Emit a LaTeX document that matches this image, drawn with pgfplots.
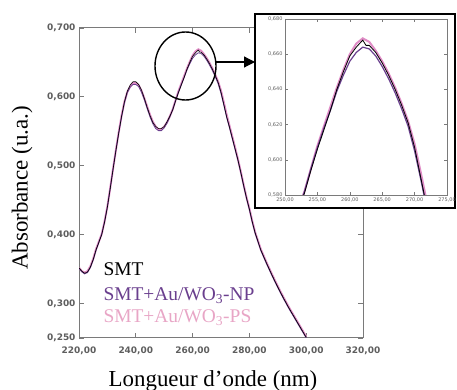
\documentclass[border=0pt]{standalone}
\usepackage{pgfplots}
\pgfplotsset{compat=1.18}
\usepackage{fontspec}
\setmainfont{Liberation Serif}
\newfontfamily\tickfont{DejaVu Sans}
\usetikzlibrary{arrows.meta}
\definecolor{axgray}{HTML}{7A7A7A}
\definecolor{tickgray}{HTML}{5E5E5E}
\definecolor{npcol}{HTML}{6A3F8E}
\definecolor{pscol}{HTML}{E08CC6}
\definecolor{pstext}{HTML}{E8A6C6}

\pgfplotstableread{
x y
220 0.352
221 0.347
222 0.344
223 0.346
224 0.353
225 0.364
226 0.378
227 0.389
228 0.400
229 0.418
230 0.440
231 0.467
232 0.495
233 0.522
234 0.548
235 0.572
236 0.593
237 0.608
238 0.617
239 0.622
240 0.622
241 0.618
242 0.610
243 0.598
244 0.585
245 0.573
246 0.563
247 0.557
248 0.554
249 0.554
250 0.557
251 0.564
252 0.572
253 0.581
254 0.594
255 0.606
256 0.617
257 0.628
258 0.640
259 0.650
260 0.659
261 0.664
262 0.668
262.5 0.665
263 0.665
264 0.661
265 0.655
266 0.648
267 0.640
268 0.631
269 0.621
270 0.607
271 0.589
272 0.571
273 0.556
274 0.540
275 0.524
276 0.508
277 0.490
278 0.471
279 0.453
280 0.437
281 0.419
282 0.403
284 0.378
286 0.359
288 0.341
290 0.324
292 0.308
294 0.293
296 0.279
298 0.265
300 0.251
}\smt

\pgfplotstableread{
x y
220 0.351
221 0.346
222 0.343
223 0.345
224 0.352
225 0.363
226 0.377
227 0.389
228 0.401
229 0.419
230 0.441
231 0.468
232 0.496
233 0.523
234 0.548
235 0.571
236 0.591
237 0.606
238 0.614
239 0.618
240 0.618
241 0.615
242 0.607
243 0.596
244 0.583
245 0.571
246 0.561
247 0.554
248 0.551
249 0.551
250 0.555
251 0.562
252 0.571
253 0.582
254 0.595
255 0.607
256 0.618
257 0.628
258 0.639
259 0.648
260 0.656
261 0.661
262 0.664
263 0.663
264 0.659
265 0.653
266 0.646
267 0.638
268 0.629
269 0.619
270 0.605
271 0.588
272 0.570
273 0.555
274 0.539
275 0.523
276 0.507
277 0.489
278 0.470
279 0.452
280 0.436
281 0.418
282 0.402
284 0.377
286 0.358
288 0.340
290 0.323
292 0.307
294 0.292
296 0.278
298 0.264
300 0.250
}\np

\pgfplotstableread{
x y
220 0.352
221 0.347
222 0.345
223 0.347
224 0.354
225 0.365
226 0.379
227 0.390
228 0.401
229 0.419
230 0.441
231 0.468
232 0.496
233 0.523
234 0.549
235 0.573
236 0.593
237 0.607
238 0.615
239 0.620
240 0.620
241 0.617
242 0.609
243 0.598
244 0.586
245 0.574
246 0.564
247 0.557
248 0.553
249 0.553
250 0.557
251 0.563
252 0.572
253 0.582
254 0.595
255 0.608
256 0.619
257 0.630
258 0.641
259 0.651
260 0.660
261 0.666
262 0.669
263 0.667
264 0.662
265 0.656
266 0.649
267 0.641
268 0.632
269 0.622
270 0.609
271 0.592
272 0.574
273 0.558
274 0.542
275 0.526
276 0.509
277 0.491
278 0.472
279 0.454
280 0.438
281 0.420
282 0.404
284 0.379
286 0.360
288 0.342
290 0.325
292 0.309
294 0.294
296 0.280
298 0.266
300 0.252
}\ps

\begin{document}
\begin{tikzpicture}
\useasboundingbox (0,0) rectangle (457bp,390bp);
\begin{axis}[
  at={(79bp,52bp)}, anchor=south west,
  scale only axis, width=284bp, height=310bp,
  xmin=220, xmax=320, ymin=0.25, ymax=0.70,
  xtick={220,240,...,320},
  ytick={0.25,0.3,0.4,0.5,0.6,0.7},
  tick align=inside,
  major tick length=5bp,
  axis line style={axgray, line width=1bp},
  every tick/.style={axgray, line width=0.9bp},
  tick label style={font=\tickfont\bfseries\fontsize{9}{10}\selectfont, text=tickgray},
  /pgf/number format/assume math mode=true,
  xticklabel style={/pgf/number format/.cd, fixed, fixed zerofill, precision=2, use comma},
  yticklabel style={/pgf/number format/.cd, fixed, fixed zerofill, precision=3, use comma},
  xticklabel shift=5bp,
  yticklabel shift=0bp,
]
\addplot[pscol, line width=2bp] table {\ps};
\addplot[npcol, line width=0.8bp] table {\np};
\addplot[black, line width=0.6bp] table {\smt};
\node[anchor=base west, font=\fontsize{19.5}{20}\selectfont, text=black] at (axis cs:227.4,0.340) {SMT};
\node[anchor=base west, font=\fontsize{19.5}{20}\selectfont, text=npcol] at (axis cs:227.4,0.305) {SMT+Au/WO\textsubscript{3}-NP};
\node[anchor=base west, font=\fontsize{19.5}{20}\selectfont, text=pstext] at (axis cs:227.4,0.272) {SMT+Au/WO\textsubscript{3}-PS};
\end{axis}

\node[rotate=90, font=\fontsize{23}{24}\selectfont] at (22bp,202bp) {Absorbance (u.a.)};
\node[anchor=base, font=\fontsize{23}{24}\selectfont] at (213bp,4bp) {Longueur d’onde (nm)};

\draw[line width=1.4bp] (185.5bp,324bp) ellipse [x radius=30.5bp, y radius=34bp];
\draw[line width=1.2bp, -{Triangle[length=11bp,width=11bp]}] (216bp,328bp) -- (255bp,328bp);

\draw[line width=2bp, fill=white] (255bp,182bp) rectangle (455bp,376bp);

\begin{axis}[
  at={(285bp,195bp)}, anchor=south west,
  scale only axis, width=162bp, height=176bp,
  xmin=250, xmax=275, ymin=0.58, ymax=0.68,
  xtick={250,255,...,275},
  ytick={0.58,0.60,...,0.68},
  tick align=inside,
  major tick length=3bp,
  axis line style={axgray, line width=0.6bp},
  every tick/.style={axgray, line width=0.5bp},
  tick label style={font=\tickfont\fontsize{5}{6}\selectfont, text=tickgray},
  /pgf/number format/assume math mode=true,
  xticklabel style={/pgf/number format/.cd, fixed, fixed zerofill, precision=2, use comma},
  yticklabel style={/pgf/number format/.cd, fixed, fixed zerofill, precision=3, use comma},
  xticklabel shift=-1bp,
  yticklabel shift=-1bp,
]
\addplot[pscol, line width=2bp] table {\ps};
\addplot[npcol, line width=1.2bp] table {\np};
\addplot[black, line width=0.8bp] table {\smt};
\end{axis}
\end{tikzpicture}
\end{document}
